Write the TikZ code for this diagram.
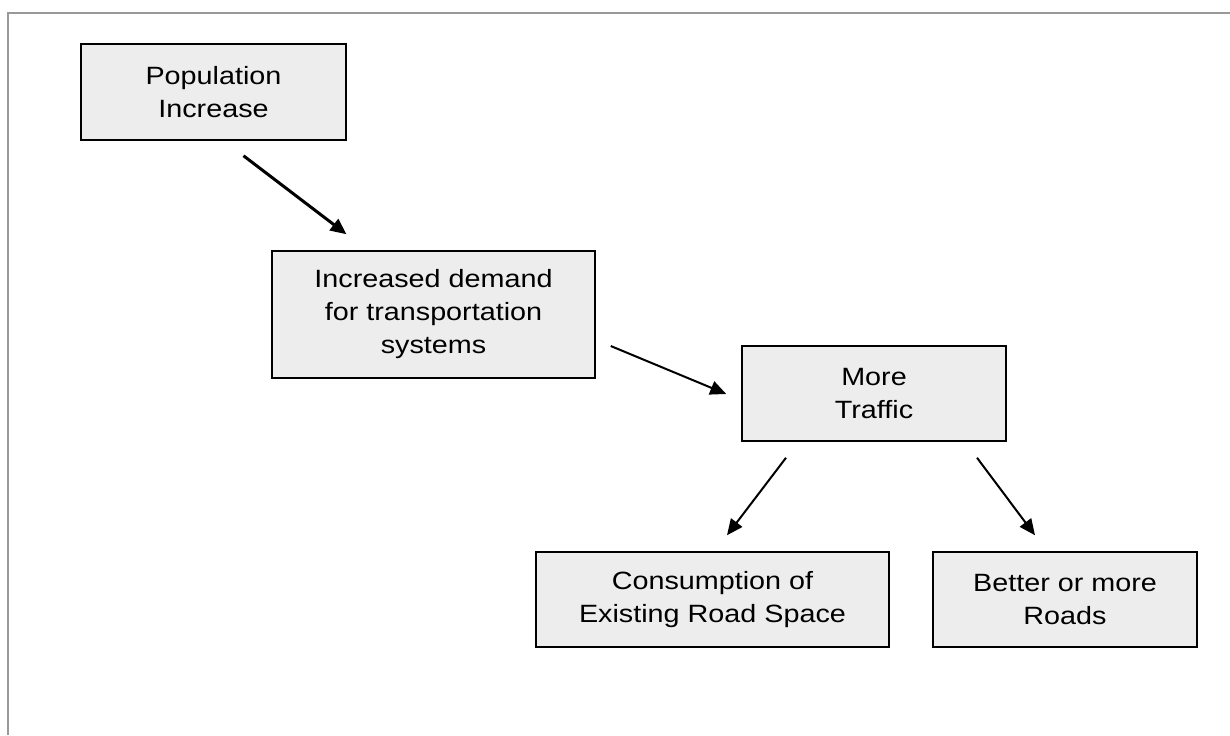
\documentclass[tikz,border=0pt]{standalone}
\usepackage{fontspec}
\setmainfont[FakeStretch=1.15]{Liberation Sans}
\usetikzlibrary{calc,arrows.meta}

\begin{document}
\begin{tikzpicture}[
  x=0.5pt, y=-0.5pt,
  box/.style={draw, line width=0.75pt, fill=black!7, align=center, inner sep=0pt,
    font=\fontsize{12.5}{16.5}\selectfont},
  link/.style={-{Triangle[length=8pt,width=7pt]}, line width=1pt},
  ]
  \useasboundingbox (0,0) rectangle (1230,735);
  % page frame
  \draw[black!40, line width=1pt] (8,735) -- (8,13) -- (1230,13);

  \node(pop)[box, minimum width=132.5pt, minimum height=48pt] at (213.5,92) {Population\\Increase};
  \node(demand)[box, minimum width=161.5pt, minimum height=63.5pt] at (433.5,314.5) {Increased demand\\for transportation\\systems};
  \node(traffic)[box, minimum width=132pt, minimum height=47.5pt] at (874,393.5) {More\\Traffic};
  \node(consume)[box, minimum width=176.5pt, minimum height=47.5pt] at (712.5,599.5) {Consumption of\\Existing Road Space};
  \node(roads)[box, minimum width=132pt, minimum height=47.5pt] at (1065,599.5) {Better or more\\Roads};

  % arrow ends, kept clear of the boxes
  \coordinate (pop out) at ($(pop.south)+(30,15)$);
  \coordinate (demand in) at ($(demand.north)+(-87,-16)$);
  \coordinate (demand out) at ($(demand.east)+(15,31.5)$);
  \coordinate (traffic in) at ($(traffic.west)+(-15,0.5)$);
  \coordinate (traffic outl) at ($(traffic.south)+(-88,16)$);
  \coordinate (traffic outr) at ($(traffic.south)+(103,16)$);
  \coordinate (consume in) at ($(consume.north)+(14.5,-16)$);
  \coordinate (roads in) at ($(roads.north)+(-30,-16)$);

  \draw[link, line width=1.5pt] (pop out) -- (demand in);
  \draw[link] (demand out) -- (traffic in);
  \draw[link] (traffic outl) -- (consume in);
  \draw[link] (traffic outr) -- (roads in);
\end{tikzpicture}
\end{document}
